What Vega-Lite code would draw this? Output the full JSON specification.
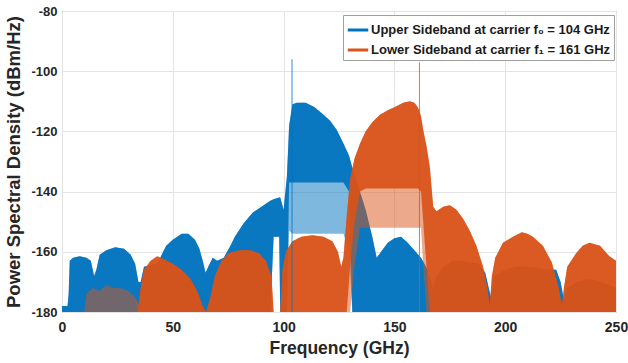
{
  "$schema": "https://vega.github.io/schema/vega-lite/v6.json",
  "width": 554,
  "height": 301,
  "autosize": {"type": "none"},
  "padding": {"left": 62, "top": 11, "right": 12, "bottom": 51},
  "background": "white",
  "config": {
    "font": "Liberation Sans",
    "view": {"stroke": "#8a8a8a", "strokeWidth": 1},
    "axis": {
      "grid": true, "gridColor": "#e4e4e4", "domain": false, "ticks": false,
      "labelFontWeight": "bold", "labelColor": "#262626", "labelFlush": false, "labelOverlap": false,
      "titleFontWeight": "bold", "titleColor": "#262626"
    }
  },
  "data": {"values": [
    {"series": "Upper Sideband at carrier f₀ = 104 GHz", "f": 0, "top": -178, "low": -180, "floor": -180},
    {"series": "Upper Sideband at carrier f₀ = 104 GHz", "f": 2.5, "top": -178, "low": -180, "floor": -180},
    {"series": "Upper Sideband at carrier f₀ = 104 GHz", "f": 3, "top": -174, "low": -180, "floor": -180},
    {"series": "Upper Sideband at carrier f₀ = 104 GHz", "f": 3.5, "top": -163, "low": -180, "floor": -180},
    {"series": "Upper Sideband at carrier f₀ = 104 GHz", "f": 5, "top": -162, "low": -180, "floor": -180},
    {"series": "Upper Sideband at carrier f₀ = 104 GHz", "f": 8, "top": -161.5, "low": -180, "floor": -180},
    {"series": "Upper Sideband at carrier f₀ = 104 GHz", "f": 11, "top": -162, "low": -180, "floor": -180},
    {"series": "Upper Sideband at carrier f₀ = 104 GHz", "f": 13, "top": -163, "low": -180, "floor": -180},
    {"series": "Upper Sideband at carrier f₀ = 104 GHz", "f": 14.5, "top": -168, "low": -180, "floor": -180},
    {"series": "Upper Sideband at carrier f₀ = 104 GHz", "f": 15.5, "top": -166, "low": -180, "floor": -180},
    {"series": "Upper Sideband at carrier f₀ = 104 GHz", "f": 17, "top": -161, "low": -180, "floor": -180},
    {"series": "Upper Sideband at carrier f₀ = 104 GHz", "f": 20, "top": -159.5, "low": -180, "floor": -180},
    {"series": "Upper Sideband at carrier f₀ = 104 GHz", "f": 24, "top": -158.5, "low": -180, "floor": -180},
    {"series": "Upper Sideband at carrier f₀ = 104 GHz", "f": 28, "top": -159, "low": -180, "floor": -180},
    {"series": "Upper Sideband at carrier f₀ = 104 GHz", "f": 31, "top": -161, "low": -180, "floor": -180},
    {"series": "Upper Sideband at carrier f₀ = 104 GHz", "f": 33, "top": -164, "low": -180, "floor": -180},
    {"series": "Upper Sideband at carrier f₀ = 104 GHz", "f": 34.5, "top": -170, "low": -180, "floor": -180},
    {"series": "Upper Sideband at carrier f₀ = 104 GHz", "f": 35.5, "top": -170, "low": -180, "floor": -180},
    {"series": "Upper Sideband at carrier f₀ = 104 GHz", "f": 37, "top": -165, "low": -180, "floor": -180},
    {"series": "Upper Sideband at carrier f₀ = 104 GHz", "f": 40, "top": -164.5, "low": -180, "floor": -180},
    {"series": "Upper Sideband at carrier f₀ = 104 GHz", "f": 43, "top": -164, "low": -180, "floor": -180},
    {"series": "Upper Sideband at carrier f₀ = 104 GHz", "f": 45, "top": -161, "low": -180, "floor": -180},
    {"series": "Upper Sideband at carrier f₀ = 104 GHz", "f": 47, "top": -158, "low": -180, "floor": -180},
    {"series": "Upper Sideband at carrier f₀ = 104 GHz", "f": 50, "top": -156, "low": -180, "floor": -180},
    {"series": "Upper Sideband at carrier f₀ = 104 GHz", "f": 54, "top": -154, "low": -180, "floor": -180},
    {"series": "Upper Sideband at carrier f₀ = 104 GHz", "f": 57, "top": -154, "low": -180, "floor": -180},
    {"series": "Upper Sideband at carrier f₀ = 104 GHz", "f": 60, "top": -156, "low": -180, "floor": -180},
    {"series": "Upper Sideband at carrier f₀ = 104 GHz", "f": 62, "top": -159, "low": -180, "floor": -180},
    {"series": "Upper Sideband at carrier f₀ = 104 GHz", "f": 63.5, "top": -163, "low": -180, "floor": -180},
    {"series": "Upper Sideband at carrier f₀ = 104 GHz", "f": 64.8, "top": -167, "low": -180, "floor": -180},
    {"series": "Upper Sideband at carrier f₀ = 104 GHz", "f": 66, "top": -165, "low": -180, "floor": -180},
    {"series": "Upper Sideband at carrier f₀ = 104 GHz", "f": 68, "top": -162, "low": -180, "floor": -180},
    {"series": "Upper Sideband at carrier f₀ = 104 GHz", "f": 70, "top": -163, "low": -180, "floor": -180},
    {"series": "Upper Sideband at carrier f₀ = 104 GHz", "f": 73, "top": -162, "low": -180, "floor": -180},
    {"series": "Upper Sideband at carrier f₀ = 104 GHz", "f": 76, "top": -158, "low": -180, "floor": -180},
    {"series": "Upper Sideband at carrier f₀ = 104 GHz", "f": 78, "top": -155, "low": -180, "floor": -180},
    {"series": "Upper Sideband at carrier f₀ = 104 GHz", "f": 82, "top": -150.5, "low": -180, "floor": -180},
    {"series": "Upper Sideband at carrier f₀ = 104 GHz", "f": 86, "top": -147, "low": -180, "floor": -180},
    {"series": "Upper Sideband at carrier f₀ = 104 GHz", "f": 90, "top": -145, "low": -180, "floor": -180},
    {"series": "Upper Sideband at carrier f₀ = 104 GHz", "f": 94, "top": -143, "low": -180, "floor": -180},
    {"series": "Upper Sideband at carrier f₀ = 104 GHz", "f": 95.5, "top": -142.5, "low": -155, "floor": -155},
    {"series": "Upper Sideband at carrier f₀ = 104 GHz", "f": 98, "top": -142, "low": -155, "floor": -155},
    {"series": "Upper Sideband at carrier f₀ = 104 GHz", "f": 98.5, "top": -142, "low": -180, "floor": -180},
    {"series": "Upper Sideband at carrier f₀ = 104 GHz", "f": 100, "top": -146, "low": -180, "floor": -180},
    {"series": "Upper Sideband at carrier f₀ = 104 GHz", "f": 101.5, "top": -135, "low": -180, "floor": -180},
    {"series": "Upper Sideband at carrier f₀ = 104 GHz", "f": 102.5, "top": -118, "low": -137, "floor": -153},
    {"series": "Upper Sideband at carrier f₀ = 104 GHz", "f": 104, "top": -111, "low": -137, "floor": -154},
    {"series": "Upper Sideband at carrier f₀ = 104 GHz", "f": 106, "top": -110.5, "low": -137, "floor": -154},
    {"series": "Upper Sideband at carrier f₀ = 104 GHz", "f": 110, "top": -110.5, "low": -137, "floor": -154},
    {"series": "Upper Sideband at carrier f₀ = 104 GHz", "f": 114, "top": -112, "low": -137, "floor": -154},
    {"series": "Upper Sideband at carrier f₀ = 104 GHz", "f": 118, "top": -114.5, "low": -137, "floor": -154},
    {"series": "Upper Sideband at carrier f₀ = 104 GHz", "f": 121, "top": -116.5, "low": -137, "floor": -154},
    {"series": "Upper Sideband at carrier f₀ = 104 GHz", "f": 124, "top": -119.5, "low": -137, "floor": -154},
    {"series": "Upper Sideband at carrier f₀ = 104 GHz", "f": 127, "top": -124, "low": -137, "floor": -154},
    {"series": "Upper Sideband at carrier f₀ = 104 GHz", "f": 129.5, "top": -128, "low": -140, "floor": -160},
    {"series": "Upper Sideband at carrier f₀ = 104 GHz", "f": 131, "top": -132, "low": -180, "floor": -180},
    {"series": "Upper Sideband at carrier f₀ = 104 GHz", "f": 134, "top": -139, "low": -180, "floor": -180},
    {"series": "Upper Sideband at carrier f₀ = 104 GHz", "f": 137, "top": -146, "low": -180, "floor": -180},
    {"series": "Upper Sideband at carrier f₀ = 104 GHz", "f": 140, "top": -155, "low": -180, "floor": -180},
    {"series": "Upper Sideband at carrier f₀ = 104 GHz", "f": 142, "top": -162, "low": -180, "floor": -180},
    {"series": "Upper Sideband at carrier f₀ = 104 GHz", "f": 144, "top": -160, "low": -180, "floor": -180},
    {"series": "Upper Sideband at carrier f₀ = 104 GHz", "f": 147, "top": -157, "low": -180, "floor": -180},
    {"series": "Upper Sideband at carrier f₀ = 104 GHz", "f": 150, "top": -155.5, "low": -180, "floor": -180},
    {"series": "Upper Sideband at carrier f₀ = 104 GHz", "f": 153, "top": -155, "low": -180, "floor": -180},
    {"series": "Upper Sideband at carrier f₀ = 104 GHz", "f": 156, "top": -157, "low": -180, "floor": -180},
    {"series": "Upper Sideband at carrier f₀ = 104 GHz", "f": 159, "top": -159.5, "low": -180, "floor": -180},
    {"series": "Upper Sideband at carrier f₀ = 104 GHz", "f": 162, "top": -162, "low": -180, "floor": -180},
    {"series": "Upper Sideband at carrier f₀ = 104 GHz", "f": 165, "top": -166, "low": -180, "floor": -180},
    {"series": "Upper Sideband at carrier f₀ = 104 GHz", "f": 167.5, "top": -172, "low": -180, "floor": -180},
    {"series": "Upper Sideband at carrier f₀ = 104 GHz", "f": 169, "top": -168, "low": -180, "floor": -180},
    {"series": "Upper Sideband at carrier f₀ = 104 GHz", "f": 172, "top": -165, "low": -180, "floor": -180},
    {"series": "Upper Sideband at carrier f₀ = 104 GHz", "f": 176, "top": -163, "low": -180, "floor": -180},
    {"series": "Upper Sideband at carrier f₀ = 104 GHz", "f": 180, "top": -163, "low": -180, "floor": -180},
    {"series": "Upper Sideband at carrier f₀ = 104 GHz", "f": 184, "top": -163.5, "low": -180, "floor": -180},
    {"series": "Upper Sideband at carrier f₀ = 104 GHz", "f": 188, "top": -164, "low": -180, "floor": -180},
    {"series": "Upper Sideband at carrier f₀ = 104 GHz", "f": 191, "top": -167, "low": -180, "floor": -180},
    {"series": "Upper Sideband at carrier f₀ = 104 GHz", "f": 193.5, "top": -175, "low": -180, "floor": -180},
    {"series": "Upper Sideband at carrier f₀ = 104 GHz", "f": 195, "top": -168, "low": -180, "floor": -180},
    {"series": "Upper Sideband at carrier f₀ = 104 GHz", "f": 200, "top": -166, "low": -180, "floor": -180},
    {"series": "Upper Sideband at carrier f₀ = 104 GHz", "f": 205, "top": -165, "low": -180, "floor": -180},
    {"series": "Upper Sideband at carrier f₀ = 104 GHz", "f": 210, "top": -165, "low": -180, "floor": -180},
    {"series": "Upper Sideband at carrier f₀ = 104 GHz", "f": 215, "top": -165.5, "low": -180, "floor": -180},
    {"series": "Upper Sideband at carrier f₀ = 104 GHz", "f": 220, "top": -166, "low": -180, "floor": -180},
    {"series": "Upper Sideband at carrier f₀ = 104 GHz", "f": 223, "top": -166, "low": -180, "floor": -180},
    {"series": "Upper Sideband at carrier f₀ = 104 GHz", "f": 225, "top": -170, "low": -180, "floor": -180},
    {"series": "Upper Sideband at carrier f₀ = 104 GHz", "f": 226.5, "top": -176, "low": -180, "floor": -180},
    {"series": "Upper Sideband at carrier f₀ = 104 GHz", "f": 228, "top": -172, "low": -180, "floor": -180},
    {"series": "Upper Sideband at carrier f₀ = 104 GHz", "f": 232, "top": -170, "low": -180, "floor": -180},
    {"series": "Upper Sideband at carrier f₀ = 104 GHz", "f": 238, "top": -169, "low": -180, "floor": -180},
    {"series": "Upper Sideband at carrier f₀ = 104 GHz", "f": 243, "top": -170, "low": -180, "floor": -180},
    {"series": "Upper Sideband at carrier f₀ = 104 GHz", "f": 247, "top": -171, "low": -180, "floor": -180},
    {"series": "Upper Sideband at carrier f₀ = 104 GHz", "f": 250, "top": -172, "low": -180, "floor": -180},

    {"series": "Lower Sideband at carrier f₁ = 161 GHz", "f": 10, "top": -180, "low": -180, "floor": -180},
    {"series": "Lower Sideband at carrier f₁ = 161 GHz", "f": 11, "top": -174, "low": -174, "floor": -180},
    {"series": "Lower Sideband at carrier f₁ = 161 GHz", "f": 14, "top": -172, "low": -172, "floor": -180},
    {"series": "Lower Sideband at carrier f₁ = 161 GHz", "f": 17, "top": -173, "low": -173, "floor": -180},
    {"series": "Lower Sideband at carrier f₁ = 161 GHz", "f": 20, "top": -171, "low": -171, "floor": -180},
    {"series": "Lower Sideband at carrier f₁ = 161 GHz", "f": 23, "top": -172, "low": -172, "floor": -180},
    {"series": "Lower Sideband at carrier f₁ = 161 GHz", "f": 26, "top": -172, "low": -172, "floor": -180},
    {"series": "Lower Sideband at carrier f₁ = 161 GHz", "f": 30, "top": -173, "low": -173, "floor": -180},
    {"series": "Lower Sideband at carrier f₁ = 161 GHz", "f": 33, "top": -175, "low": -175, "floor": -180},
    {"series": "Lower Sideband at carrier f₁ = 161 GHz", "f": 34.5, "top": -178, "low": -180, "floor": -180},
    {"series": "Lower Sideband at carrier f₁ = 161 GHz", "f": 35.5, "top": -172, "low": -180, "floor": -180},
    {"series": "Lower Sideband at carrier f₁ = 161 GHz", "f": 37, "top": -166, "low": -180, "floor": -180},
    {"series": "Lower Sideband at carrier f₁ = 161 GHz", "f": 40, "top": -163, "low": -180, "floor": -180},
    {"series": "Lower Sideband at carrier f₁ = 161 GHz", "f": 43, "top": -161.5, "low": -180, "floor": -180},
    {"series": "Lower Sideband at carrier f₁ = 161 GHz", "f": 46, "top": -162.5, "low": -180, "floor": -180},
    {"series": "Lower Sideband at carrier f₁ = 161 GHz", "f": 50, "top": -164, "low": -180, "floor": -180},
    {"series": "Lower Sideband at carrier f₁ = 161 GHz", "f": 54, "top": -166, "low": -180, "floor": -180},
    {"series": "Lower Sideband at carrier f₁ = 161 GHz", "f": 58, "top": -169, "low": -180, "floor": -180},
    {"series": "Lower Sideband at carrier f₁ = 161 GHz", "f": 61, "top": -173, "low": -180, "floor": -180},
    {"series": "Lower Sideband at carrier f₁ = 161 GHz", "f": 63.5, "top": -178, "low": -180, "floor": -180},
    {"series": "Lower Sideband at carrier f₁ = 161 GHz", "f": 65, "top": -180, "low": -180, "floor": -180},
    {"series": "Lower Sideband at carrier f₁ = 161 GHz", "f": 67, "top": -175, "low": -180, "floor": -180},
    {"series": "Lower Sideband at carrier f₁ = 161 GHz", "f": 69, "top": -168, "low": -180, "floor": -180},
    {"series": "Lower Sideband at carrier f₁ = 161 GHz", "f": 72, "top": -163, "low": -180, "floor": -180},
    {"series": "Lower Sideband at carrier f₁ = 161 GHz", "f": 75, "top": -160.5, "low": -180, "floor": -180},
    {"series": "Lower Sideband at carrier f₁ = 161 GHz", "f": 80, "top": -159.5, "low": -180, "floor": -180},
    {"series": "Lower Sideband at carrier f₁ = 161 GHz", "f": 85, "top": -159.5, "low": -180, "floor": -180},
    {"series": "Lower Sideband at carrier f₁ = 161 GHz", "f": 89, "top": -160.5, "low": -180, "floor": -180},
    {"series": "Lower Sideband at carrier f₁ = 161 GHz", "f": 92, "top": -163, "low": -180, "floor": -180},
    {"series": "Lower Sideband at carrier f₁ = 161 GHz", "f": 94.5, "top": -168, "low": -180, "floor": -180},
    {"series": "Lower Sideband at carrier f₁ = 161 GHz", "f": 95.5, "top": -180, "low": -180, "floor": -180},
    {"series": "Lower Sideband at carrier f₁ = 161 GHz", "f": 98.5, "top": -180, "low": -180, "floor": -180},
    {"series": "Lower Sideband at carrier f₁ = 161 GHz", "f": 99.5, "top": -166, "low": -180, "floor": -180},
    {"series": "Lower Sideband at carrier f₁ = 161 GHz", "f": 101, "top": -160, "low": -180, "floor": -180},
    {"series": "Lower Sideband at carrier f₁ = 161 GHz", "f": 104, "top": -156.5, "low": -180, "floor": -180},
    {"series": "Lower Sideband at carrier f₁ = 161 GHz", "f": 108, "top": -155, "low": -180, "floor": -180},
    {"series": "Lower Sideband at carrier f₁ = 161 GHz", "f": 113, "top": -154.5, "low": -180, "floor": -180},
    {"series": "Lower Sideband at carrier f₁ = 161 GHz", "f": 118, "top": -155, "low": -180, "floor": -180},
    {"series": "Lower Sideband at carrier f₁ = 161 GHz", "f": 122, "top": -156.5, "low": -180, "floor": -180},
    {"series": "Lower Sideband at carrier f₁ = 161 GHz", "f": 124.5, "top": -160, "low": -180, "floor": -180},
    {"series": "Lower Sideband at carrier f₁ = 161 GHz", "f": 126, "top": -165, "low": -180, "floor": -180},
    {"series": "Lower Sideband at carrier f₁ = 161 GHz", "f": 127, "top": -162, "low": -180, "floor": -180},
    {"series": "Lower Sideband at carrier f₁ = 161 GHz", "f": 128.5, "top": -148, "low": -180, "floor": -180},
    {"series": "Lower Sideband at carrier f₁ = 161 GHz", "f": 130, "top": -136, "low": -165, "floor": -180},
    {"series": "Lower Sideband at carrier f₁ = 161 GHz", "f": 132, "top": -129, "low": -150, "floor": -165},
    {"series": "Lower Sideband at carrier f₁ = 161 GHz", "f": 134.5, "top": -124, "low": -140, "floor": -152},
    {"series": "Lower Sideband at carrier f₁ = 161 GHz", "f": 137, "top": -120, "low": -139, "floor": -152},
    {"series": "Lower Sideband at carrier f₁ = 161 GHz", "f": 140, "top": -117, "low": -139, "floor": -152},
    {"series": "Lower Sideband at carrier f₁ = 161 GHz", "f": 143.5, "top": -114.5, "low": -139, "floor": -152},
    {"series": "Lower Sideband at carrier f₁ = 161 GHz", "f": 147, "top": -113, "low": -139, "floor": -152},
    {"series": "Lower Sideband at carrier f₁ = 161 GHz", "f": 150, "top": -112, "low": -139, "floor": -152},
    {"series": "Lower Sideband at carrier f₁ = 161 GHz", "f": 154, "top": -110.5, "low": -139, "floor": -152},
    {"series": "Lower Sideband at carrier f₁ = 161 GHz", "f": 157, "top": -110, "low": -139, "floor": -152},
    {"series": "Lower Sideband at carrier f₁ = 161 GHz", "f": 159, "top": -110.5, "low": -139, "floor": -152},
    {"series": "Lower Sideband at carrier f₁ = 161 GHz", "f": 160.6, "top": -112, "low": -139, "floor": -152},
    {"series": "Lower Sideband at carrier f₁ = 161 GHz", "f": 162, "top": -115, "low": -140, "floor": -152},
    {"series": "Lower Sideband at carrier f₁ = 161 GHz", "f": 163, "top": -119.5, "low": -150, "floor": -165},
    {"series": "Lower Sideband at carrier f₁ = 161 GHz", "f": 164.5, "top": -125, "low": -165, "floor": -180},
    {"series": "Lower Sideband at carrier f₁ = 161 GHz", "f": 166, "top": -132, "low": -180, "floor": -180},
    {"series": "Lower Sideband at carrier f₁ = 161 GHz", "f": 167.5, "top": -145, "low": -180, "floor": -180},
    {"series": "Lower Sideband at carrier f₁ = 161 GHz", "f": 169, "top": -146.5, "low": -180, "floor": -180},
    {"series": "Lower Sideband at carrier f₁ = 161 GHz", "f": 172, "top": -145, "low": -180, "floor": -180},
    {"series": "Lower Sideband at carrier f₁ = 161 GHz", "f": 175, "top": -144.5, "low": -180, "floor": -180},
    {"series": "Lower Sideband at carrier f₁ = 161 GHz", "f": 178, "top": -146, "low": -180, "floor": -180},
    {"series": "Lower Sideband at carrier f₁ = 161 GHz", "f": 181, "top": -149, "low": -180, "floor": -180},
    {"series": "Lower Sideband at carrier f₁ = 161 GHz", "f": 184, "top": -153, "low": -180, "floor": -180},
    {"series": "Lower Sideband at carrier f₁ = 161 GHz", "f": 187, "top": -158, "low": -180, "floor": -180},
    {"series": "Lower Sideband at carrier f₁ = 161 GHz", "f": 190, "top": -165, "low": -180, "floor": -180},
    {"series": "Lower Sideband at carrier f₁ = 161 GHz", "f": 192, "top": -172, "low": -180, "floor": -180},
    {"series": "Lower Sideband at carrier f₁ = 161 GHz", "f": 193, "top": -178, "low": -180, "floor": -180},
    {"series": "Lower Sideband at carrier f₁ = 161 GHz", "f": 194, "top": -168, "low": -180, "floor": -180},
    {"series": "Lower Sideband at carrier f₁ = 161 GHz", "f": 195.5, "top": -162, "low": -180, "floor": -180},
    {"series": "Lower Sideband at carrier f₁ = 161 GHz", "f": 199, "top": -157, "low": -180, "floor": -180},
    {"series": "Lower Sideband at carrier f₁ = 161 GHz", "f": 203.5, "top": -155, "low": -180, "floor": -180},
    {"series": "Lower Sideband at carrier f₁ = 161 GHz", "f": 207.5, "top": -153.5, "low": -180, "floor": -180},
    {"series": "Lower Sideband at carrier f₁ = 161 GHz", "f": 210, "top": -154, "low": -180, "floor": -180},
    {"series": "Lower Sideband at carrier f₁ = 161 GHz", "f": 212.5, "top": -155, "low": -180, "floor": -180},
    {"series": "Lower Sideband at carrier f₁ = 161 GHz", "f": 217, "top": -158, "low": -180, "floor": -180},
    {"series": "Lower Sideband at carrier f₁ = 161 GHz", "f": 221, "top": -163.5, "low": -180, "floor": -180},
    {"series": "Lower Sideband at carrier f₁ = 161 GHz", "f": 224, "top": -171.5, "low": -180, "floor": -180},
    {"series": "Lower Sideband at carrier f₁ = 161 GHz", "f": 225.6, "top": -178, "low": -180, "floor": -180},
    {"series": "Lower Sideband at carrier f₁ = 161 GHz", "f": 226.5, "top": -172, "low": -180, "floor": -180},
    {"series": "Lower Sideband at carrier f₁ = 161 GHz", "f": 228, "top": -165, "low": -180, "floor": -180},
    {"series": "Lower Sideband at carrier f₁ = 161 GHz", "f": 232, "top": -160.5, "low": -180, "floor": -180},
    {"series": "Lower Sideband at carrier f₁ = 161 GHz", "f": 235, "top": -158, "low": -180, "floor": -180},
    {"series": "Lower Sideband at carrier f₁ = 161 GHz", "f": 238, "top": -157, "low": -180, "floor": -180},
    {"series": "Lower Sideband at carrier f₁ = 161 GHz", "f": 242.8, "top": -158, "low": -180, "floor": -180},
    {"series": "Lower Sideband at carrier f₁ = 161 GHz", "f": 247, "top": -161.5, "low": -180, "floor": -180},
    {"series": "Lower Sideband at carrier f₁ = 161 GHz", "f": 250, "top": -163, "low": -180, "floor": -180}
  ]},
  "encoding": {
    "x": {"field": "f", "type": "quantitative", "scale": {"domain": [0, 250], "nice": false},
      "axis": {"values": [0, 50, 100, 150, 200, 250], "title": "Frequency (GHz)", "labelFontSize": 14, "labelPadding": 8, "titlePadding": 5, "titleFontSize": 17.5}},
    "y": {"field": "top", "type": "quantitative", "scale": {"domain": [-180, -80], "nice": false, "zero": false},
      "axis": {"values": [-180, -160, -140, -120, -100, -80], "labelExpr": "toString(datum.value)", "title": "Power Spectral Density (dBm/Hz)", "labelFontSize": 13, "labelPadding": 5, "titlePadding": 7, "titleFontSize": 18.5}}
  },
  "layer": [
    {"transform": [{"filter": "indexof(datum.series, 'Upper') == 0"}],
     "mark": {"type": "area", "opacity": 0.5, "color": "#0072BD"}, "encoding": {"y2": {"field": "floor"}}},
    {"transform": [{"filter": "indexof(datum.series, 'Upper') == 0"}],
     "mark": {"type": "area", "opacity": 0.92, "color": "#0072BD"}, "encoding": {"y2": {"field": "low"}}},
    {"transform": [{"filter": "indexof(datum.series, 'Lower') == 0"}],
     "mark": {"type": "area", "opacity": 0.5, "color": "#D95319"}, "encoding": {"y2": {"field": "floor"}}},
    {"transform": [{"filter": "indexof(datum.series, 'Lower') == 0"}],
     "mark": {"type": "area", "opacity": 0.92, "color": "#D95319"}, "encoding": {"y2": {"field": "low"}}},
    {"data": {"values": [
       {"series": "Upper Sideband at carrier f₀ = 104 GHz", "f": 103.8, "peak": -96},
       {"series": "Lower Sideband at carrier f₁ = 161 GHz", "f": 161.3, "peak": -97}
     ]},
     "mark": {"type": "rule", "strokeWidth": 1, "opacity": 0.8},
     "encoding": {
       "y": {"field": "peak", "type": "quantitative"},
       "y2": {"datum": -180},
       "stroke": {"field": "series", "type": "nominal",
         "scale": {"domain": ["Upper Sideband at carrier f₀ = 104 GHz", "Lower Sideband at carrier f₁ = 161 GHz"], "range": ["#0072BD", "#D95319"]},
         "legend": {"title": null, "orient": "none", "legendX": 281, "legendY": 4, "symbolType": "stroke", "symbolSize": 420, "symbolStrokeWidth": 3,
           "labelFontSize": 13, "labelFontWeight": "bold", "labelColor": "#1a1a1a", "labelLimit": 400, "labelOffset": 1, "padding": 3, "rowPadding": 1,
           "strokeColor": "#a0a0a0", "fillColor": "white", "symbolOpacity": 1}}
     }}
  ]
}
